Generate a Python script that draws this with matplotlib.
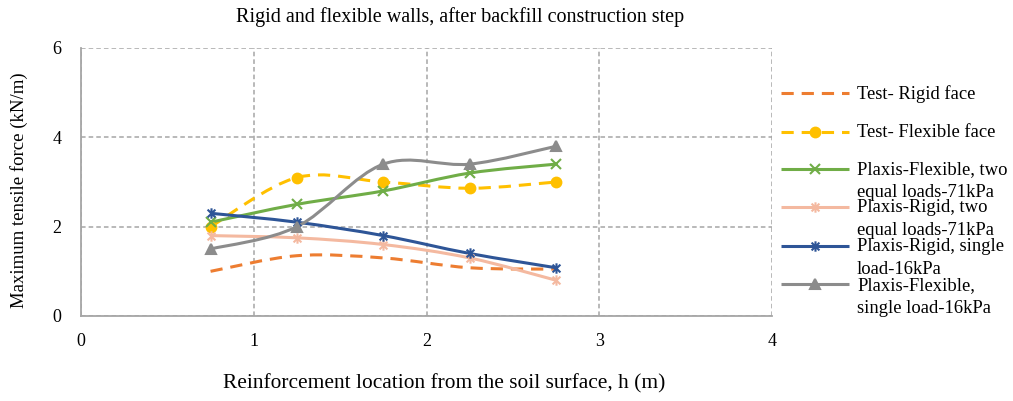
import numpy as np
import matplotlib
matplotlib.use('Agg')
import matplotlib.pyplot as plt
from matplotlib.path import Path
from matplotlib.patches import PathPatch
from matplotlib.lines import Line2D

plt.rcParams['font.family'] = ['Liberation Serif', 'DejaVu Serif']

# data
h = [0.75, 1.25, 1.75, 2.25, 2.75]
test_rigid = [1.0, 1.35, 1.3, 1.08, 1.05]
test_flexible = [2.0, 3.1, 3.0, 2.86, 3.0]
plaxis_flex_two = [2.1, 2.5, 2.8, 3.2, 3.4]
plaxis_rigid_two = [1.8, 1.75, 1.6, 1.3, 0.8]
plaxis_rigid_single = [2.3, 2.1, 1.8, 1.4, 1.08]
plaxis_flex_single = [1.5, 2.0, 3.4, 3.4, 3.8]

labels = ['Test- Rigid face',
          'Test- Flexible face',
          'Plaxis-Flexible, two\nequal loads-71kPa',
          'Plaxis-Rigid, two\nequal loads-71kPa',
          'Plaxis-Rigid, single\nload-16kPa',
          'Plaxis-Flexible,\nsingle load-16kPa']
x_ticks = [0, 1, 2, 3, 4]
y_ticks = [0, 2, 4, 6]

W, H = 1013, 401

# asterisk marker like the Excel "star" (x with a vertical bar)
star = Path([(0, -1), (0, 1), (-0.75, -0.75), (0.75, 0.75), (-0.75, 0.75), (0.75, -0.75)],
            [Path.MOVETO, Path.LINETO] * 3)

styles = [
    dict(color='#ED7D31', marker=None, ls='--'),
    dict(color='#FFC000', marker='o', ls='--'),
    dict(color='#70AD47', marker='x', ls='-'),
    dict(color='#F4B9A0', marker=star, ls='-'),
    dict(color='#2E5597', marker=star, ls='-'),
    dict(color='#8C8C8C', marker='^', ls='-'),
]
series = [test_rigid, test_flexible, plaxis_flex_two, plaxis_rigid_two,
          plaxis_rigid_single, plaxis_flex_single]


def smooth_path(x, y):
    """Bezier path through the points, similar to Excel's smoothed line."""
    pts = np.column_stack([x, y]).astype(float)
    n = len(pts)
    verts = [pts[0]]
    codes = [Path.MOVETO]
    for i in range(n - 1):
        p0 = pts[max(i - 1, 0)]
        p1 = pts[i]
        p2 = pts[i + 1]
        p3 = pts[min(i + 2, n - 1)]
        verts += [p1 + (p2 - p0) / 6, p2 - (p3 - p1) / 6, p2]
        codes += [Path.CURVE4] * 3
    return Path(verts, codes)


fig = plt.figure(figsize=(W / 100, H / 100), dpi=100)
ax = fig.add_axes([81 / W, 1 - 316 / H, (772 - 81) / W, (316 - 48) / H])

lw = 2.2
dash = (4, 2.6)
for vals, st in zip(series, styles):
    patch = PathPatch(smooth_path(h, vals), fill=False, edgecolor=st['color'],
                      lw=lw, capstyle='butt', zorder=3)
    if st['ls'] == '--':
        patch.set_linestyle((0, dash))
    ax.add_patch(patch)
    if st['marker'] is not None:
        ms = 7 if st['marker'] == 'o' else 7.5
        ax.plot(h, vals, ls='none', marker=st['marker'], ms=ms, color=st['color'],
                mew=1.5, zorder=4)

ax.set_xlim(0, 4)
ax.set_ylim(0, 6)
ax.set_xticks(x_ticks)
ax.set_yticks(y_ticks)
ax.tick_params(length=0, labelsize=13)
ax.tick_params(axis='x', pad=12)
ax.tick_params(axis='y', pad=14)
ax.grid(True, color='#A6A6A6', ls=(0, (3, 2)), lw=1.1)
ax.set_axisbelow(True)
for s in ['top', 'right']:
    ax.spines[s].set_visible(False)
for s in ['left', 'bottom']:
    ax.spines[s].set_color('#A6A6A6')
    ax.spines[s].set_linewidth(1.3)

fig.text(460 / W, 1 - 17 / H, 'Rigid and flexible walls, after backfill construction step',
         ha='center', va='center', fontsize=14.5)
fig.text(444 / W, 1 - 384 / H, 'Reinforcement location from the soil surface, h (m)',
         ha='center', va='center', fontsize=15.4)
fig.text(19 / W, 1 - 190 / H, 'Maximum tensile force (kN/m)', rotation=90,
         ha='center', va='center', fontsize=13.5)

# legend drawn by hand so symbols line up with the first text line
leg_y = [92.7, 131.7, 169, 206.7, 245.7, 284.3]
for py, st, lab in zip(leg_y, styles, labels):
    fy = 1 - py / H
    ln = Line2D([781 / W, 849 / W], [fy, fy], transform=fig.transFigure,
                color=st['color'], lw=lw, solid_capstyle='butt', dash_capstyle='butt')
    if st['ls'] == '--':
        ln.set_linestyle((0, dash))
    fig.add_artist(ln)
    if st['marker'] is not None:
        ms = 7 if st['marker'] == 'o' else 7.5
        fig.add_artist(Line2D([815 / W], [fy], transform=fig.transFigure, ls='none',
                              marker=st['marker'], ms=ms, color=st['color'], mew=1.5))
    fig.text(857 / W, 1 - (py - 7.5) / H, lab, ha='left', va='top', fontsize=13.4,
             linespacing=1.45)

fig.savefig('out.png', dpi=100)
